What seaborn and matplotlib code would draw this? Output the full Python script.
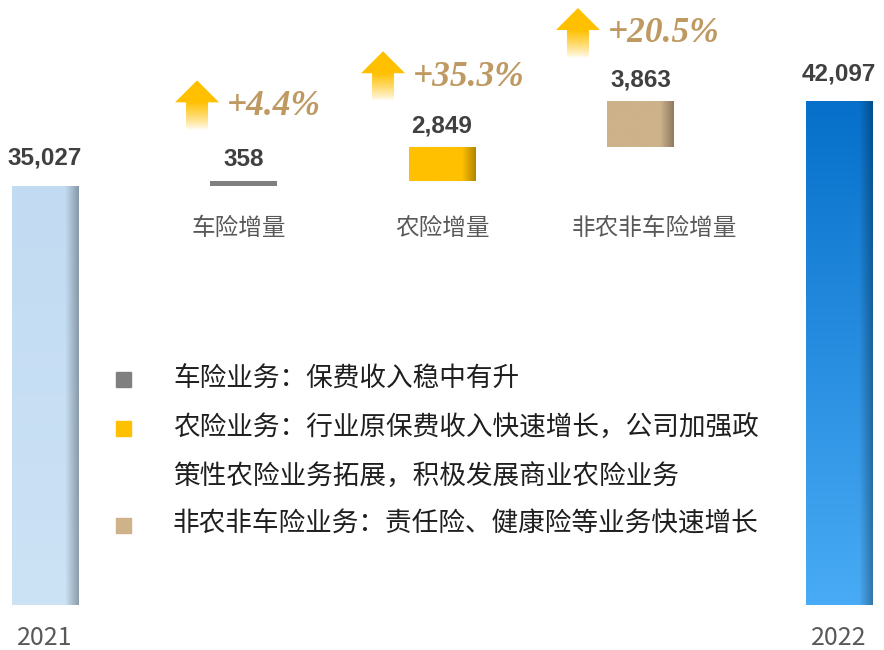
import numpy as np
import matplotlib
matplotlib.use("Agg")
import matplotlib.pyplot as plt
import matplotlib.colors as mcolors
from matplotlib.patches import Polygon
import seaborn as sns

# data
years = ["2021", "2022"]
start_value = 35027
end_value = 42097
step_names = ["车险增量", "农险增量", "非农非车险增量"]
increments = [358, 2849, 3863]
growth = ["+4.4%", "+35.3%", "+20.5%"]
notes = [
    "车险业务：保费收入稳中有升",
    "农险业务：行业原保费收入快速增长，公司加强政\n策性农险业务拓展，积极发展商业农险业务",
    "非农非车险业务：责任险、健康险等业务快速增长",
]

cats = [years[0]] + step_names + [years[1]]
heights = [start_value] + increments + [end_value]
bottoms = [0] + list(start_value + np.cumsum([0] + increments[:-1])) + [0]

# colours: (top, bottom) of each bar gradient
bar_cols = [("#C2DBF2", "#CCE2F5"), ("#808080", "#808080"), ("#FFC000", "#FFC000"),
            ("#CDB28A", "#CDB28A"), ("#0670CA", "#49ABF5")]
note_cols = ["#7F7F7F", "#FFC000", "#CDB28A"]
gold = "#FFC000"
pct_col = "#BE9A62"

sns.set_theme(style="white")
plt.rcParams["font.family"] = ["Noto Sans CJK SC", "DejaVu Sans"]

W, H = 884, 650
fig = plt.figure(figsize=(W / 100, H / 100), dpi=100)
base_px = 605
ax = fig.add_axes([0, (H - base_px) / H, 1, base_px / H])

px_x = 1 / 198.5                 # data x per pixel
px_y = end_value / 504           # data y per pixel
xlim = (-45 * px_x, (W - 45) * px_x)
ylim = (0, base_px * px_y)

sns.barplot(x=cats, y=heights, bottom=bottoms, width=0.335, color="0.5",
            saturation=1, ax=ax)


def shade_bar(patch, top, bottom, shade=0.7):
    x0, y0 = patch.get_x(), patch.get_y()
    w, h = patch.get_width(), patch.get_height()
    patch.set_facecolor(top)
    patch.set_edgecolor("none")
    t = np.linspace(0, 1, 64)[:, None, None]
    c0 = np.array(mcolors.to_rgb(top))
    c1 = np.array(mcolors.to_rgb(bottom))
    img = c0 * (1 - t) + c1 * t
    xs = np.linspace(0, 1, 64)
    f = np.where(xs < 0.8, 1.0, 1 - (1 - shade) * (xs - 0.8) / 0.2)
    img = np.clip(img * f[None, :, None], 0, 1)
    im = ax.imshow(img, extent=(x0, x0 + w, y0, y0 + h), origin="upper",
                   aspect="auto", interpolation="bilinear", zorder=patch.get_zorder() + 0.1)
    im.set_clip_path(patch)


for p, (ct, cb) in zip(ax.patches, bar_cols):
    if p.get_height() > 500:
        shade_bar(p, ct, cb)
    else:
        p.set_facecolor(ct)
        p.set_edgecolor("none")

# value labels
for i, (p, v) in enumerate(zip(ax.patches, heights)):
    lift = 21 if i in (0, 4) else 15
    ax.annotate(f"{v:,}", (p.get_x() + p.get_width() / 2, p.get_y() + p.get_height()),
                xytext=(0, lift * 0.72), textcoords="offset points", ha="center",
                va="baseline", fontsize=17.5, fontweight="bold", color="#404040",
                family="Liberation Sans", zorder=5)

# step names under the floating bars
name_dx = [-5, 0, 14]
for i, (name, dx) in enumerate(zip(step_names, name_dx)):
    ax.text(i + 1 + dx * px_x, (base_px - 228) / base_px, name,
            transform=ax.get_xaxis_transform(), ha="center", va="center",
            fontsize=17, color="#595959")

# year labels
for i, y in zip([0, 4], years):
    ax.text(i, -33 / base_px, y, transform=ax.get_xaxis_transform(), ha="center",
            va="center", fontsize=18, color="#595959", clip_on=False)


def gradient_arrow(xc, y_tip):
    hw, sw = 22 * px_x, 11 * px_x
    head = 22 * px_y
    y_bot = y_tip - 50 * px_y
    verts = [(xc - sw, y_bot), (xc - sw, y_tip - head), (xc - hw, y_tip - head), (xc, y_tip),
             (xc + hw, y_tip - head), (xc + sw, y_tip - head), (xc + sw, y_bot)]
    poly = Polygon(verts, closed=True, facecolor="none", edgecolor="none")
    ax.add_patch(poly)
    n = 120
    yy = np.linspace(y_tip, y_bot, n)
    a = np.clip((yy - y_bot) / (y_tip - head - y_bot), 0, 1) ** 0.8
    rgba = np.zeros((n, 1, 4))
    rgba[..., :3] = mcolors.to_rgb(gold)
    rgba[..., 3] = a[:, None]
    im = ax.imshow(rgba, extent=(xc - hw, xc + hw, y_bot, y_tip), origin="upper",
                   aspect="auto", interpolation="bilinear", zorder=3)
    im.set_clip_path(poly)


arrow_dx = [-0.234, -0.297, -0.315]
arrow_lift = [101, 96, 93]
for i, (g, dx, lift) in enumerate(zip(growth, arrow_dx, arrow_lift)):
    p = ax.patches[i + 1]
    top = p.get_y() + p.get_height()
    xc = i + 1 + dx
    y_tip = top + lift * px_y
    gradient_arrow(xc, y_tip)
    ax.text(xc + 30 * px_x, y_tip - 26 * px_y, g, ha="left", va="center", fontsize=25.5,
            fontweight="bold", fontstyle="italic", family="Liberation Serif",
            color=pct_col, zorder=5)

# notes with square markers
line_y = 379
for col, note in zip(note_cols, notes):
    for j, line in enumerate(note.split("\n")):
        yy = (base_px - line_y) / base_px
        if j == 0:
            ax.plot([123 / W], [yy], marker="s", markersize=10.8, color=col,
                    transform=ax.transAxes, clip_on=False, zorder=5)
        ax.text(173 / W, yy, line, transform=ax.transAxes, ha="left", va="center",
                fontsize=19.2, color="#1F1F1F")
        line_y += 48.5

ax.set_xlim(*xlim)
ax.set_ylim(*ylim)
ax.set_xticks([])
ax.set_yticks([])
ax.set_xlabel("")
ax.set_ylabel("")
sns.despine(ax=ax, left=True, bottom=True)

fig.savefig("out.png", dpi=100, facecolor="white")
